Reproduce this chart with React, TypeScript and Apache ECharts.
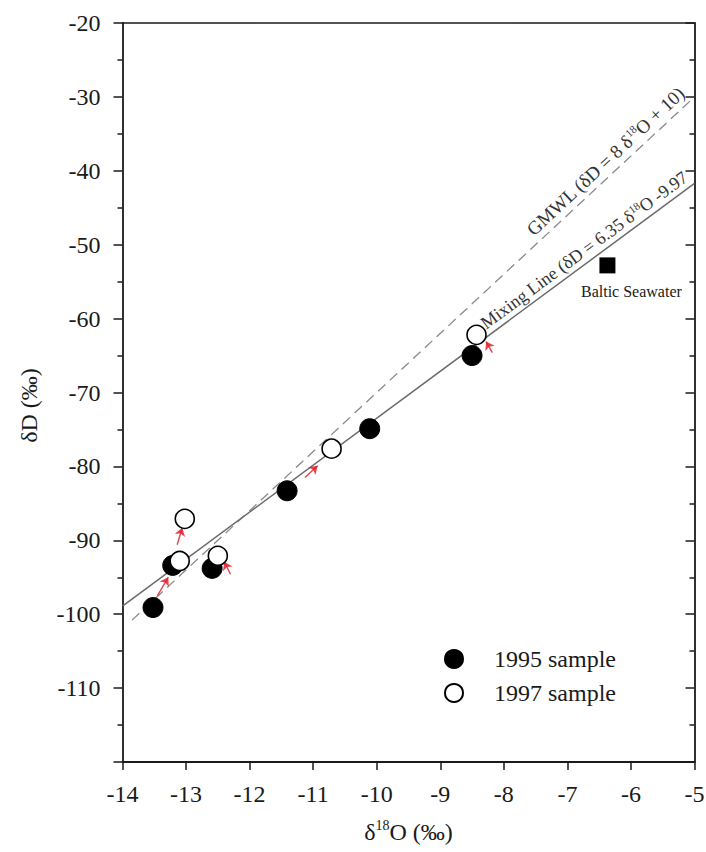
import React, { useEffect, useRef } from 'react';
import * as echarts from 'echarts';

const FONT = 'Liberation Serif';
const INK = '#1a1a1a';

// 1995 samples (filled circles)
const x1995 = [-13.52, -13.21, -12.59, -11.41, -10.11, -8.5];
const y1995 = [-99.1, -93.4, -93.8, -83.3, -74.9, -65.0];
// 1997 samples (open circles)
const x1997 = [-13.02, -13.1, -12.5, -10.71, -8.43];
const y1997 = [-87.1, -92.8, -92.1, -77.6, -62.2];
// Baltic seawater
const balticX = [-6.37];
const balticY = [-52.8];
// GMWL (dashed) end points
const gmwlX = [-13.85, -5];
const gmwlY = [-100.8, -30];
// Mixing line (solid) end points
const mixX = [-14, -5];
const mixY = [-98.9, -41.7];
// red arrows (from -> to)
const arrowFromX = [-13.45, -13.14, -12.3, -11.13, -8.18];
const arrowFromY = [-97.5, -90.6, -94.6, -81.5, -64.6];
const arrowToX = [-13.28, -13.06, -12.4, -10.93, -8.28];
const arrowToY = [-95.0, -88.3, -92.9, -79.9, -63.1];

const X_MIN = -14, X_MAX = -5, X_STEP = 1;
const Y_MIN = -120, Y_MAX = -20, Y_STEP = 10;

const serie = (xs: number[], ys: number[]) => xs.map((x, i) => [x, ys[i]]);

export default function App() {
  const ref = useRef<HTMLDivElement>(null);
  useEffect(() => {
    if (!ref.current) return;
    const chart = echarts.init(ref.current, undefined, { renderer: 'svg' });
    const richAxis = {
      n: { fontSize: 24, fontFamily: FONT, color: INK, lineHeight: 28 },
      s: { fontSize: 14, fontFamily: FONT, color: INK, lineHeight: 14, verticalAlign: 'top' as const },
    };
    const tickLabel = { fontSize: 24, fontFamily: FONT, color: INK };
    const option: any = {
      animation: false,
      backgroundColor: '#fff',
      textStyle: { fontFamily: FONT, color: INK },
      grid: { left: 122.5, right: 11.5, top: 23, bottom: 90, containLabel: false, outerBoundsMode: 'none' },
      legend: {
        orient: 'vertical',
        left: 439,
        top: 642,
        itemWidth: 18,
        itemHeight: 18,
        itemGap: 10,
        data: ['1995 sample', '1997 sample'],
        textStyle: { fontSize: 24, fontFamily: FONT, color: INK, padding: [0, 0, 0, 26] },
      },
      xAxis: [
        {
          type: 'value', min: X_MIN, max: X_MAX, interval: X_STEP, position: 'bottom',
          name: '{n|δ}{s|18}{n|O (‰)}', nameLocation: 'middle', nameGap: 56,
          nameTextStyle: { rich: richAxis },
          axisLine: { show: true, onZero: false, lineStyle: { color: INK, width: 1.8 } },
          axisTick: { show: true, inside: false, length: 8, lineStyle: { color: INK, width: 1.5 } },
          axisLabel: {
            margin: 20,
            formatter: (v: number) => '{t|' + v + '}',
            rich: { t: tickLabel },
            ...tickLabel,
          },
          splitLine: { show: false },
        },
        {
          type: 'value', min: X_MIN, max: X_MAX, interval: X_STEP, position: 'top',
          axisLine: { show: true, onZero: false, lineStyle: { color: INK, width: 1.6 } },
          axisTick: { show: false }, axisLabel: { show: false }, splitLine: { show: false },
        },
      ],
      yAxis: [
        {
          type: 'value', min: Y_MIN, max: Y_MAX, interval: Y_STEP, position: 'left',
          name: '{n|δD (‰)}', nameLocation: 'middle', nameGap: 80,
          nameTextStyle: { rich: richAxis, padding: [0, 26, 0, 0] },
          axisLine: { show: true, onZero: false, lineStyle: { color: INK, width: 1.8 } },
          axisTick: { show: true, inside: false, length: 9, lineStyle: { color: INK, width: 1.5 } },
          minorTick: { show: true, splitNumber: 2, length: 5, lineStyle: { color: INK, width: 1.5 } },
          axisLabel: {
            margin: 22,
            formatter: (v: number) => (v === Y_MIN ? '' : '{t|' + v + '}'),
            rich: { t: tickLabel },
            ...tickLabel,
          },
          splitLine: { show: false },
        },
        {
          type: 'value', min: Y_MIN, max: Y_MAX, interval: Y_STEP, position: 'right',
          axisLine: { show: true, onZero: false, lineStyle: { color: INK, width: 1.8 } },
          axisTick: { show: true, inside: true, length: 9, lineStyle: { color: INK, width: 1.5 } },
          minorTick: { show: true, splitNumber: 2, length: 5, lineStyle: { color: INK, width: 1.5 } },
          axisLabel: { show: false }, splitLine: { show: false },
        },
      ],
      series: [
        {
          name: 'GMWL', type: 'line', data: serie(gmwlX, gmwlY), symbol: 'none',
          lineStyle: { color: '#8a8a8a', width: 1.3, type: [10, 6] }, z: 1, silent: true,
        },
        {
          name: 'Mixing', type: 'line', data: serie(mixX, mixY), symbol: 'none',
          lineStyle: { color: '#6a6a6a', width: 1.5 }, z: 1, silent: true,
        },
        {
          name: 'arrows', type: 'lines', coordinateSystem: 'cartesian2d', z: 2,
          symbol: ['none', 'arrow'], symbolSize: 8,
          lineStyle: { color: '#e3212b', width: 1.4, opacity: 0.85 },
          data: arrowFromX.map((x, i) => ({ coords: [[x, arrowFromY[i]], [arrowToX[i], arrowToY[i]]] })),
        },
        {
          name: '1995 sample', type: 'scatter', data: serie(x1995, y1995), symbol: 'circle', symbolSize: 20,
          itemStyle: { color: '#000', borderColor: '#000', borderWidth: 1, opacity: 1 }, z: 3,
        },
        {
          name: '1997 sample', type: 'scatter', data: serie(x1997, y1997), symbol: 'circle', symbolSize: 19,
          itemStyle: { color: '#fff', borderColor: '#000', borderWidth: 1.6, opacity: 1 }, z: 4,
        },
        {
          name: 'Baltic Seawater', type: 'scatter', data: serie(balticX, balticY), symbol: 'rect', symbolSize: 16,
          itemStyle: { color: '#000', opacity: 1 }, z: 4,
          label: {
            show: true, position: 'bottom', distance: 10, offset: [24, 0],
            formatter: 'Baltic Seawater', fontSize: 16, fontFamily: FONT, color: INK,
          },
        },
      ],
    };
    chart.setOption(option);

    const lineLabel = (xs: number[], ys: number[], anchorX: number, off: number, text: string, size: number) => {
      const p1 = chart.convertToPixel({ gridIndex: 0 } as any, [xs[0], ys[0]]) as number[];
      const p2 = chart.convertToPixel({ gridIndex: 0 } as any, [xs[1], ys[1]]) as number[];
      const ang = Math.atan2(p1[1] - p2[1], p2[0] - p1[0]);
      const t = (anchorX - xs[0]) / (xs[1] - xs[0]);
      const ax = p1[0] + t * (p2[0] - p1[0]);
      const ay = p1[1] + t * (p2[1] - p1[1]);
      return {
        type: 'text',
        x: ax - off * Math.sin(ang),
        y: ay - off * Math.cos(ang),
        rotation: ang,
        z: 10,
        style: {
          text,
          fill: '#333',
          align: 'left',
          verticalAlign: 'bottom',
          rich: {
            n: { fontSize: size, fontFamily: FONT, fill: '#333', lineHeight: size + 2 },
            s: { fontSize: Math.round(size * 0.6), fontFamily: FONT, fill: '#333', lineHeight: Math.round(size * 0.6), verticalAlign: 'top' },
          },
        },
      };
    };

    chart.setOption({
      graphic: [
        lineLabel(gmwlX, gmwlY, -7.45, 3, '{n|GMWL (δD = 8 δ}{s|18}{n|O + 10)}', 19),
        lineLabel(mixX, mixY, -8.22, 2, '{n|Mixing Line (δD = 6.35 δ}{s|18}{n|O -9.97}', 18),
      ],
    });

    return () => chart.dispose();
  }, []);
  return (
    <div
      ref={ref}
      style={{ position: 'fixed', left: 0, top: 0, width: 706, height: 852, background: '#fff' }}
    />
  );
}
